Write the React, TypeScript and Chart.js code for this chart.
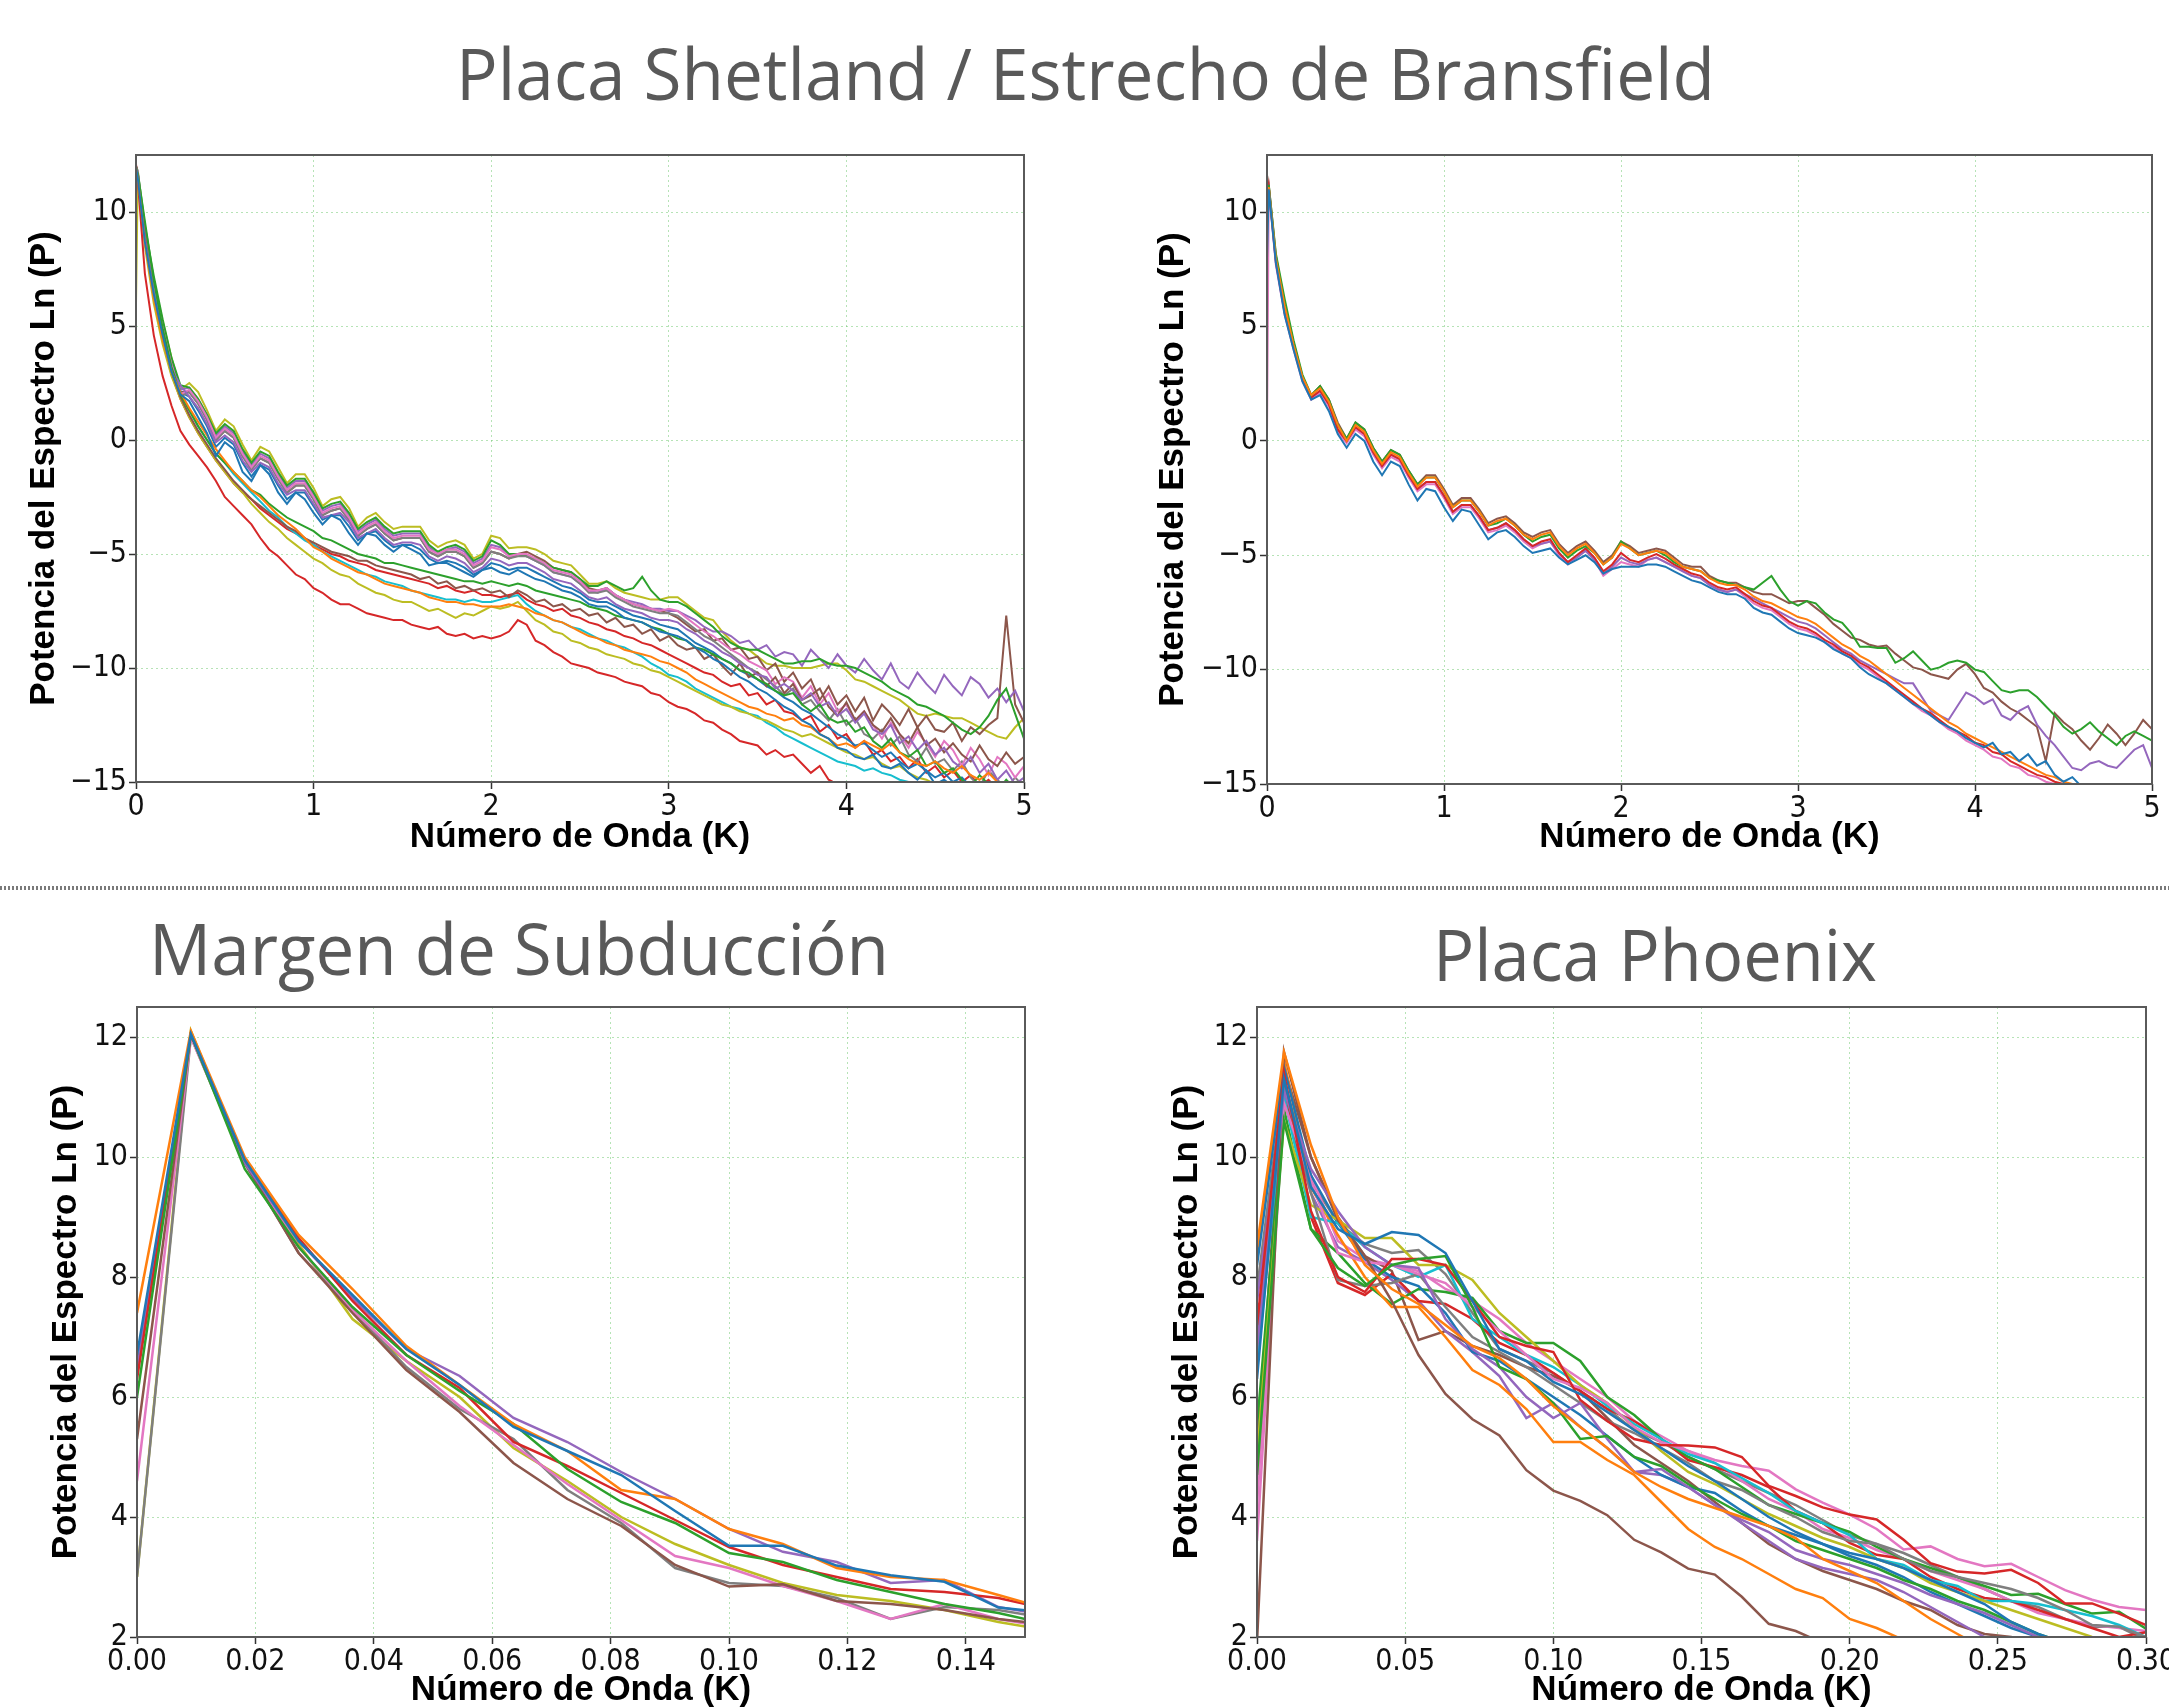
import React, { useEffect, useRef } from 'react';
import { Chart, registerables } from 'chart.js';

Chart.register(...registerables);

// ---------- colours (matplotlib tab10) ----------
const BLUE = '#1f77b4', ORANGE = '#ff7f0e', GREEN = '#2ca02c', RED = '#d62728', PURPLE = '#9467bd';
const BROWN = '#8c564b', PINK = '#e377c2', GRAY = '#7f7f7f', OLIVE = '#bcbd22', CYAN = '#17becf';

// ---------- titles / labels ----------
const TITLE_TOP = 'Placa Shetland / Estrecho de Bransfield';
const TITLE_BL = 'Margen de Subducción';
const TITLE_BR = 'Placa Phoenix';
const X_LABEL = 'Número de Onda (K)';
const Y_LABEL = 'Potencia del Espectro Ln (P)';

// ---------- wavenumbers ----------
const K_TOP = [0, 0.01, 0.05, 0.1, 0.15, 0.2, 0.25, 0.3, 0.35, 0.4, 0.45, 0.5,
  0.55, 0.6, 0.65, 0.7, 0.75, 0.8, 0.85, 0.9, 0.95, 1,
  1.05, 1.1, 1.15, 1.2, 1.25, 1.3, 1.35, 1.4, 1.45, 1.5,
  1.55, 1.6, 1.65, 1.7, 1.75, 1.8, 1.85, 1.9, 1.95, 2,
  2.05, 2.1, 2.15, 2.2, 2.25, 2.3, 2.35, 2.4, 2.45, 2.5,
  2.55, 2.6, 2.65, 2.7, 2.75, 2.8, 2.85, 2.9, 2.95, 3,
  3.05, 3.1, 3.15, 3.2, 3.25, 3.3, 3.35, 3.4, 3.45, 3.5,
  3.55, 3.6, 3.65, 3.7, 3.75, 3.8, 3.85, 3.9, 3.95, 4,
  4.05, 4.1, 4.15, 4.2, 4.25, 4.3, 4.35, 4.4, 4.45, 4.5,
  4.55, 4.6, 4.65, 4.7, 4.75, 4.8, 4.85, 4.9, 4.95, 5];

const K_BOTTOM = [0, 0.0091, 0.0182, 0.0273, 0.0364, 0.0455, 0.0545, 0.0636, 0.0727, 0.0818,
  0.0909, 0.1, 0.1091, 0.1182, 0.1273, 0.1364, 0.1455, 0.1545, 0.1636, 0.1727,
  0.1818, 0.1909, 0.2, 0.2091, 0.2182, 0.2273, 0.2364, 0.2455, 0.2545, 0.2636,
  0.2727, 0.2818, 0.2909, 0.3];

// ---------- Placa Shetland (left) ----------
const SH_BLUE_A = [12.0, 11.5,
  8.7, 6.4, 4.6, 3.0, 2.0, 1.7, 1.0, 0.3, -0.7, -0.1,
  -0.4, -1.4, -1.8, -1.1, -1.5, -2.3, -2.8, -2.3, -2.6, -3.2,
  -3.7, -3.3, -3.5, -4.1, -4.6, -4.1, -4.2, -4.6, -4.9, -4.6,
  -4.8, -5.0, -5.5, -5.4, -5.4, -5.6, -5.8, -6.0, -5.7, -5.6,
  -5.8, -5.9, -5.7, -5.9, -6.1, -6.2, -6.4, -6.6, -6.7, -6.9,
  -7.2, -7.3, -7.3, -7.5, -7.8, -7.9, -8.0, -8.2, -8.4, -8.5,
  -8.6, -8.8, -9.1, -9.3, -9.6, -9.8, -10.1, -10.4, -10.6, -10.9,
  -11.1, -11.4, -11.7, -11.9, -12.3, -12.5, -12.9, -13.1, -13.5, -13.6,
  -13.9, -14.0, -13.8, -14.3, -14.4, -14.2, -14.6, -14.9, -14.5, -15.1,
  -14.9, -15.2, -15.0, -15.4, -15.3, -15.5, -15.2, -15.6, -15.4, -15.6];
const SH_ORANGE = [12.0, 11.5,
  8.7, 6.2, 4.4, 3.0, 2.1, 1.4, 0.8, 0.2, -0.4, -0.9,
  -1.4, -1.8, -2.2, -2.5, -2.9, -3.3, -3.6, -3.9, -4.3, -4.7,
  -4.9, -5.2, -5.4, -5.6, -5.8, -5.9, -6.1, -6.3, -6.4, -6.5,
  -6.6, -6.7, -6.9, -7.0, -7.1, -7.1, -7.2, -7.2, -7.3, -7.3,
  -7.3, -7.2, -7.3, -7.4, -7.6, -7.7, -7.9, -8.0, -8.2, -8.4,
  -8.6, -8.7, -8.9, -9.0, -9.2, -9.3, -9.4, -9.5, -9.7, -9.8,
  -10.0, -10.2, -10.5, -10.7, -10.9, -11.1, -11.3, -11.5, -11.7, -11.8,
  -12.0, -12.1, -12.3, -12.2, -12.5, -12.6, -12.9, -13.1, -13.4, -13.3,
  -13.5, -13.2, -13.4, -13.6, -13.3, -13.7, -14.0, -14.2, -14.3, -14.1,
  -14.4, -14.6, -14.3, -14.7, -14.9, -14.6, -15.0, -15.2, -15.1, -15.3];
const SH_GREEN_MID = [12.0, 11.7,
  9.6, 7.0, 4.9, 3.2, 2.0, 1.3, 0.6, 0.0, -0.6, -1.0,
  -1.4, -1.8, -2.2, -2.4, -2.8, -3.1, -3.4, -3.6, -3.8, -4.0,
  -4.3, -4.4, -4.6, -4.8, -5.0, -5.1, -5.2, -5.4, -5.4, -5.5,
  -5.6, -5.7, -5.8, -5.9, -6.0, -6.1, -6.2, -6.2, -6.3, -6.2,
  -6.3, -6.4, -6.3, -6.4, -6.6, -6.7, -6.8, -6.9, -7.0, -7.1,
  -7.3, -7.4, -7.5, -7.7, -7.8, -7.9, -8.0, -8.2, -8.3, -8.5,
  -8.7, -8.8, -9.1, -9.2, -9.4, -9.6, -9.8, -10.1, -10.2, -10.5,
  -10.7, -11.0, -11.2, -11.1, -11.6, -11.9, -11.6, -12.2, -12.4, -12.3,
  -12.8, -12.6, -13.2, -13.5, -13.1, -13.7, -13.9, -13.6, -14.3, -14.1,
  -14.6, -14.4, -14.9, -15.2, -14.7, -15.1, -15.4, -14.9, -15.3, -15.5];
const SH_RED_LOW = [12.1, 11.4,
  7.3, 4.6, 2.8, 1.5, 0.4, -0.2, -0.7, -1.2, -1.8, -2.5,
  -2.9, -3.3, -3.7, -4.3, -4.8, -5.1, -5.5, -5.9, -6.1, -6.5,
  -6.7, -7.0, -7.2, -7.2, -7.4, -7.6, -7.7, -7.8, -7.9, -7.9,
  -8.1, -8.2, -8.3, -8.2, -8.5, -8.6, -8.5, -8.7, -8.6, -8.7,
  -8.6, -8.4, -7.9, -8.1, -8.8, -9.0, -9.3, -9.5, -9.8, -9.9,
  -10.0, -10.2, -10.3, -10.4, -10.6, -10.7, -10.8, -11.1, -11.2, -11.5,
  -11.7, -11.8, -12.0, -12.3, -12.4, -12.7, -12.9, -13.2, -13.3, -13.4,
  -13.8, -13.6, -13.9, -13.8, -14.2, -14.6, -14.3, -14.9, -15.1, -15.4,
  -15.2, -15.6, -15.4, -15.8, -15.6, -15.9, -15.7, -16.0, -15.8, -16.1,
  -15.9, -16.2, -16.0, -16.3, -16.1, -16.4, -16.2, -16.5, -16.3, -16.5];
const SH_PURPLE_A = [12.0, 11.6,
  8.8, 6.5, 4.7, 3.1, 2.4, 1.9, 1.4, 0.7, -0.1, 0.2,
  -0.1, -0.9, -1.4, -1.0, -1.2, -1.9, -2.4, -2.2, -2.2, -2.8,
  -3.4, -3.3, -3.2, -3.6, -4.3, -4.1, -3.9, -4.3, -4.6, -4.5,
  -4.5, -4.6, -5.1, -5.3, -5.1, -5.2, -5.4, -5.8, -5.6, -5.2,
  -5.3, -5.5, -5.4, -5.4, -5.6, -5.8, -6.1, -6.2, -6.3, -6.6,
  -6.9, -7.0, -6.9, -7.2, -7.4, -7.5, -7.6, -7.8, -7.9, -7.9,
  -8.0, -8.3, -8.5, -8.8, -9.0, -9.3, -9.5, -9.8, -10.0, -10.3,
  -10.4, -10.9, -10.7, -11.0, -11.4, -11.1, -11.7, -11.5, -12.1, -11.8,
  -12.4, -12.0, -12.7, -12.9, -12.5, -13.3, -13.0, -13.6, -13.2, -13.8,
  -13.5, -14.1, -14.4, -13.9, -14.6, -14.2, -14.9, -14.5, -15.1, -14.8];
const SH_BROWN_MID = [12.0, 11.6,
  9.0, 6.4, 4.5, 3.0, 1.9, 1.1, 0.4, -0.2, -0.8, -1.3,
  -1.8, -2.2, -2.6, -2.9, -3.2, -3.5, -3.8, -4.0, -4.3, -4.5,
  -4.7, -4.9, -5.0, -5.1, -5.3, -5.3, -5.5, -5.6, -5.7, -5.8,
  -5.9, -6.1, -6.0, -6.3, -6.2, -6.5, -6.4, -6.6, -6.5, -6.7,
  -6.6, -6.9, -6.6, -6.8, -7.1, -7.0, -7.3, -7.2, -7.5, -7.4,
  -7.7, -7.6, -8.0, -7.8, -8.2, -8.1, -8.5, -8.3, -8.8, -8.6,
  -9.0, -9.2, -9.1, -9.6, -9.4, -9.9, -10.3, -9.8, -10.4, -10.2,
  -10.8, -10.4, -11.1, -10.7, -11.4, -11.2, -10.9, -11.7, -12.1, -11.5,
  -12.3, -11.9, -12.5, -12.8, -12.2, -12.9, -13.3, -12.6, -13.4, -13.1,
  -13.7, -13.3, -13.8, -14.1, -13.4, -14.0, -14.3, -13.7, -14.2, -13.9];
const SH_PINK = [12.0, 11.8,
  9.0, 6.7, 4.9, 3.3, 2.0, 2.2, 1.7, 1.0, 0.1, 0.5,
  0.2, -0.6, -1.2, -0.7, -0.9, -1.6, -2.2, -1.9, -1.9, -2.5,
  -3.2, -3.0, -2.9, -3.4, -4.1, -3.8, -3.6, -4.0, -4.3, -4.2,
  -4.2, -4.2, -4.8, -5.0, -4.8, -4.8, -5.0, -5.5, -5.3, -4.7,
  -4.8, -5.1, -5.0, -5.0, -5.2, -5.4, -5.7, -5.8, -5.9, -6.2,
  -6.6, -6.6, -6.5, -6.8, -7.0, -7.2, -7.3, -7.4, -7.5, -7.4,
  -7.5, -7.8, -8.1, -8.4, -8.6, -8.9, -9.2, -9.4, -9.7, -9.9,
  -10.1, -10.7, -10.4, -10.6, -11.3, -10.8, -11.6, -11.1, -11.9, -11.6,
  -12.3, -11.9, -12.5, -13.1, -12.4, -12.9, -13.5, -12.8, -13.3, -13.9,
  -13.2, -13.6, -14.3, -13.5, -14.0, -14.7, -13.9, -14.2, -14.8, -14.3];
const SH_GRAY = [12.0, 11.7,
  8.9, 6.6, 4.8, 3.2, 1.9, 2.1, 1.6, 0.9, 0.0, 0.4,
  0.1, -0.7, -1.3, -0.8, -1.0, -1.7, -2.3, -2.0, -2.0, -2.6,
  -3.3, -3.1, -3.0, -3.5, -4.2, -3.9, -3.7, -4.1, -4.4, -4.3,
  -4.3, -4.3, -4.9, -5.1, -4.9, -4.9, -5.1, -5.6, -5.4, -4.9,
  -5.0, -5.2, -5.1, -5.1, -5.3, -5.5, -5.8, -5.9, -6.0, -6.3,
  -6.7, -6.7, -6.6, -6.9, -7.1, -7.3, -7.4, -7.5, -7.6, -7.6,
  -7.7, -8.0, -8.3, -8.6, -8.8, -9.1, -9.4, -9.7, -10.0, -10.2,
  -10.5, -10.8, -11.2, -10.9, -11.6, -11.4, -11.9, -12.3, -11.8, -12.5,
  -12.2, -12.9, -13.1, -12.7, -13.4, -13.0, -13.8, -14.1, -13.5, -14.2,
  -14.0, -14.5, -14.1, -14.8, -15.2, -14.5, -14.9, -15.3, -14.8, -15.2];
const SH_OLIVE_LOW = [12.0, 11.5,
  8.5, 6.0, 4.2, 2.8, 1.8, 1.0, 0.3, -0.3, -0.9, -1.4,
  -1.9, -2.3, -2.8, -3.2, -3.6, -3.9, -4.3, -4.6, -4.9, -5.2,
  -5.4, -5.7, -5.9, -6.0, -6.3, -6.5, -6.7, -6.8, -7.0, -7.1,
  -7.1, -7.3, -7.5, -7.4, -7.6, -7.8, -7.6, -7.7, -7.5, -7.3,
  -7.4, -7.3, -7.1, -7.5, -7.9, -8.1, -8.4, -8.5, -8.8, -8.9,
  -9.1, -9.2, -9.4, -9.5, -9.6, -9.8, -9.9, -10.1, -10.2, -10.4,
  -10.6, -10.8, -11.0, -11.2, -11.4, -11.6, -11.7, -11.9, -12.0, -12.2,
  -12.3, -12.5, -12.7, -12.8, -13.0, -12.9, -13.1, -13.3, -13.5, -13.7,
  -13.8, -14.0, -13.9, -14.2, -14.4, -14.3, -14.6, -14.8, -14.9, -15.1,
  -15.0, -15.2, -15.3, -15.1, -15.4, -15.5, -15.3, -15.6, -15.5, -15.7];
const SH_CYAN = [12.0, 11.6,
  8.9, 6.3, 4.6, 3.1, 2.1, 1.3, 0.6, 0.0, -0.6, -1.0,
  -1.5, -1.9, -2.3, -2.7, -3.1, -3.4, -3.8, -4.1, -4.4, -4.6,
  -4.9, -5.1, -5.3, -5.5, -5.7, -5.9, -6.0, -6.2, -6.3, -6.4,
  -6.6, -6.7, -6.8, -6.9, -7.0, -7.0, -7.1, -7.0, -7.1, -7.1,
  -7.0, -6.9, -6.8, -7.2, -7.5, -7.7, -7.9, -8.0, -8.2, -8.3,
  -8.5, -8.7, -8.8, -9.0, -9.1, -9.3, -9.5, -9.8, -10.0, -10.3,
  -10.4, -10.6, -10.9, -11.1, -11.3, -11.5, -11.7, -11.8, -12.0, -12.1,
  -12.4, -12.6, -12.9, -13.1, -13.3, -13.5, -13.7, -13.9, -14.1, -14.2,
  -14.3, -14.5, -14.4, -14.6, -14.7, -14.9, -15.0, -15.1, -15.2, -15.3,
  -15.4, -15.3, -15.5, -15.6, -15.5, -15.7, -15.8, -15.6, -15.8, -15.9];
const SH_BLUE_B = [12.0, 11.7,
  8.9, 6.6, 4.8, 3.2, 2.1, 1.9, 1.3, 0.6, -0.3, 0.1,
  -0.2, -1.0, -1.6, -1.1, -1.3, -2.0, -2.6, -2.3, -2.3, -2.9,
  -3.5, -3.3, -3.3, -3.8, -4.4, -4.1, -4.0, -4.4, -4.7, -4.6,
  -4.6, -4.8, -5.2, -5.4, -5.3, -5.4, -5.6, -5.9, -5.7, -5.4,
  -5.5, -5.7, -5.6, -5.6, -5.8, -6.0, -6.2, -6.4, -6.5, -6.7,
  -7.0, -7.1, -7.1, -7.3, -7.5, -7.7, -7.8, -7.9, -8.1, -8.2,
  -8.3, -8.6, -8.9, -9.1, -9.3, -9.6, -9.8, -10.1, -10.3, -10.5,
  -10.8, -11.0, -11.3, -11.5, -11.8, -12.0, -12.3, -12.6, -12.9, -13.1,
  -13.4, -13.3, -13.6, -13.9, -13.7, -14.1, -14.4, -14.2, -14.5, -14.8,
  -14.6, -15.0, -14.8, -15.2, -15.0, -15.3, -15.1, -15.4, -15.2, -15.5];
const SH_GREEN_UP = [12.0, 11.8,
  9.4, 7.2, 5.3, 3.6, 2.4, 2.3, 1.8, 1.1, 0.3, 0.7,
  0.4, -0.4, -1.0, -0.5, -0.7, -1.4, -2.0, -1.7, -1.7, -2.3,
  -3.0, -2.8, -2.7, -3.2, -3.9, -3.6, -3.4, -3.8, -4.1, -4.0,
  -4.0, -4.0, -4.6, -4.9, -4.7, -4.6, -4.8, -5.3, -5.1, -4.4,
  -4.6, -5.0, -5.0, -5.1, -5.2, -5.4, -5.6, -5.7, -5.8, -6.1,
  -6.4, -6.4, -6.2, -6.4, -6.6, -6.5, -6.0, -6.6, -7.0, -7.1,
  -7.1, -7.3, -7.6, -7.9, -8.2, -8.6, -8.9, -9.1, -9.2, -9.2,
  -9.4, -9.6, -9.8, -9.8, -9.7, -9.7, -9.6, -9.8, -9.9, -9.9,
  -10.0, -10.2, -10.4, -10.6, -10.9, -11.1, -11.3, -11.6, -11.7, -11.9,
  -12.1, -12.4, -12.7, -12.9, -12.6, -12.1, -11.4, -10.9, -12.0, -13.1];
const SH_PURPLE_UP = [12.0, 11.7,
  9.1, 6.8, 5.0, 3.4, 2.2, 2.3, 1.8, 1.1, 0.2, 0.6,
  0.3, -0.5, -1.1, -0.6, -0.8, -1.5, -2.1, -1.8, -1.8, -2.4,
  -3.1, -2.9, -2.8, -3.3, -4.0, -3.7, -3.5, -3.9, -4.2, -4.1,
  -4.1, -4.1, -4.7, -5.0, -4.8, -4.7, -4.9, -5.4, -5.2, -4.6,
  -4.7, -5.1, -5.0, -5.1, -5.3, -5.5, -5.8, -5.9, -6.0, -6.3,
  -6.6, -6.7, -6.5, -6.8, -7.0, -7.1, -7.2, -7.4, -7.4, -7.5,
  -7.5, -7.7, -7.9, -8.2, -8.4, -8.4, -8.6, -8.9, -8.8, -9.2,
  -9.0, -9.5, -9.3, -9.4, -9.9, -9.2, -9.6, -10.0, -9.4, -9.9,
  -10.2, -9.6, -10.1, -10.5, -9.8, -10.6, -10.9, -10.2, -10.7, -11.1,
  -10.3, -10.8, -11.2, -10.4, -10.7, -11.3, -10.9, -11.5, -11.0, -11.9];
const SH_BROWN_UP = [12.0, 11.6,
  9.0, 6.7, 4.9, 3.3, 2.1, 2.1, 1.6, 0.9, 0.0, 0.4,
  0.1, -0.7, -1.3, -0.8, -1.0, -1.7, -2.3, -2.0, -2.0, -2.6,
  -3.3, -3.1, -3.0, -3.5, -4.2, -3.9, -3.7, -4.1, -4.4, -4.3,
  -4.3, -4.3, -4.9, -5.1, -4.9, -4.9, -5.1, -5.6, -5.4, -4.9,
  -5.0, -5.2, -5.0, -4.9, -5.1, -5.3, -5.6, -5.7, -5.8, -6.1,
  -6.5, -6.6, -6.5, -6.8, -7.0, -7.2, -7.3, -7.4, -7.5, -7.6,
  -7.8, -8.1, -8.4, -8.3, -8.8, -8.7, -9.2, -9.1, -9.6, -9.5,
  -10.1, -9.8, -10.6, -10.2, -10.9, -10.5, -11.4, -10.8, -11.6, -11.2,
  -11.9, -11.3, -12.3, -11.6, -12.0, -12.5, -11.8, -12.6, -12.1, -12.7,
  -12.8, -12.4, -13.2, -12.6, -12.9, -12.5, -12.2, -7.7, -11.6, -12.4];
const SH_RED_MID = [12.0, 11.5,
  8.9, 6.3, 4.4, 2.9, 1.8, 1.0, 0.3, -0.3, -0.9, -1.4,
  -1.9, -2.3, -2.6, -3.0, -3.3, -3.6, -3.9, -4.1, -4.3, -4.6,
  -4.8, -5.0, -5.1, -5.3, -5.4, -5.5, -5.7, -5.8, -5.9, -6.0,
  -6.1, -6.2, -6.3, -6.5, -6.4, -6.6, -6.7, -6.6, -6.8, -6.8,
  -6.9, -6.8, -6.7, -7.0, -7.2, -7.3, -7.5, -7.4, -7.7, -7.8,
  -8.0, -8.1, -8.3, -8.4, -8.6, -8.7, -8.9, -9.0, -9.2, -9.4,
  -9.6, -9.8, -10.0, -10.2, -10.3, -10.6, -10.8, -10.7, -11.2, -11.1,
  -11.6, -11.4, -11.9, -12.0, -12.3, -12.1, -12.8, -12.5, -13.1, -12.9,
  -13.5, -13.2, -13.8, -13.6, -14.1, -13.9, -14.4, -14.0, -14.6, -14.3,
  -14.8, -14.5, -15.0, -14.7, -15.2, -14.9, -15.3, -15.0, -15.4, -15.1];
const SH_OLIVE_TOP = [6.0, 11.6,
  9.3, 7.0, 5.2, 3.6, 2.2, 2.5, 2.1, 1.3, 0.4, 0.9,
  0.6, -0.2, -0.9, -0.3, -0.5, -1.2, -1.9, -1.5, -1.5, -2.1,
  -2.9, -2.6, -2.5, -3.0, -3.8, -3.4, -3.2, -3.6, -3.9, -3.8,
  -3.8, -3.8, -4.4, -4.7, -4.5, -4.4, -4.6, -5.2, -5.0, -4.2,
  -4.3, -4.75, -4.7, -4.7, -4.8, -5.0, -5.3, -5.4, -5.5, -5.9,
  -6.3, -6.3, -6.2, -6.5, -6.7, -6.8, -6.9, -7.0, -7.0, -6.9,
  -6.9, -7.2, -7.5, -7.8, -7.9, -8.4, -8.8, -9.1, -9.2, -9.5,
  -9.8, -9.9, -9.9, -10.0, -10.0, -10.0, -9.9, -9.8, -9.8, -10.1,
  -10.5, -10.6, -10.8, -11.0, -11.2, -11.4, -11.7, -12.0, -12.1, -12.0,
  -12.1, -12.2, -12.2, -12.4, -12.6, -12.8, -13.0, -13.1, -12.6, -12.2];

const SH_SERIES = [SH_BLUE_A, SH_ORANGE, SH_GREEN_MID, SH_RED_LOW, SH_PURPLE_A, SH_BROWN_MID, SH_PINK, SH_GRAY,
  SH_OLIVE_LOW, SH_CYAN, SH_BLUE_B, SH_GREEN_UP, SH_PURPLE_UP, SH_BROWN_UP, SH_RED_MID, SH_OLIVE_TOP];
const SH_COLORS = [BLUE, ORANGE, GREEN, RED, PURPLE, BROWN, PINK, GRAY, OLIVE, CYAN, BLUE, GREEN, PURPLE, BROWN, RED, OLIVE];

// ---------- Estrecho de Bransfield (right) ----------
const BR_BLUE = [8.0, 11.0,
  7.8, 5.5, 4.0, 2.6, 1.8, 2.0, 1.3, 0.3, -0.3, 0.3,
  0.0, -0.9, -1.5, -0.9, -1.1, -1.9, -2.6, -2.1, -2.2, -2.9,
  -3.5, -3.0, -3.1, -3.7, -4.3, -4.0, -3.9, -4.2, -4.6, -4.9,
  -4.8, -4.7, -5.1, -5.4, -5.2, -5.0, -5.3, -5.8, -5.6, -5.5,
  -5.5, -5.5, -5.4, -5.4, -5.5, -5.7, -5.9, -6.1, -6.2, -6.4,
  -6.6, -6.7, -6.7, -6.9, -7.3, -7.5, -7.6, -7.9, -8.2, -8.4,
  -8.5, -8.6, -8.8, -9.1, -9.3, -9.5, -9.9, -10.2, -10.4, -10.6,
  -10.9, -11.2, -11.5, -11.7, -12.0, -12.3, -12.5, -12.7, -13.0, -13.2,
  -13.4, -13.2, -13.7, -13.6, -14.0, -13.7, -14.2, -14.0, -14.6, -14.9,
  -14.7, -15.1, -15.0, -15.3, -15.2, -15.4, -15.5, -15.6, -15.7, -15.8];
const BR_ORANGE = [9.5, 11.1,
  8.0, 5.9, 4.2, 2.8, 2.0, 2.3, 1.7, 0.7, 0.0, 0.7,
  0.4, -0.4, -1.0, -0.5, -0.7, -1.4, -2.0, -1.6, -1.6, -2.2,
  -2.9, -2.6, -2.6, -3.1, -3.7, -3.5, -3.4, -3.7, -4.1, -4.3,
  -4.1, -4.0, -4.6, -5.0, -4.7, -4.5, -4.9, -5.4, -5.1, -4.5,
  -4.7, -5.0, -4.9, -4.8, -4.9, -5.2, -5.5, -5.6, -5.7, -6.0,
  -6.2, -6.3, -6.3, -6.5, -6.8, -7.0, -7.1, -7.3, -7.5, -7.7,
  -7.8, -8.0, -8.3, -8.6, -8.9, -9.1, -9.4, -9.6, -9.9, -10.2,
  -10.5, -10.8, -11.1, -11.4, -11.7, -12.0, -12.3, -12.5, -12.8, -13.0,
  -13.2, -13.4, -13.6, -13.8, -14.0, -14.2, -14.4, -14.6, -14.7, -14.9,
  -15.0, -15.1, -15.2, -15.3, -15.4, -15.5, -15.6, -15.7, -15.8, -15.9];
const BR_GREEN = [10.0, 11.2,
  8.2, 6.2, 4.4, 2.9, 2.0, 2.4, 1.8, 0.7, 0.1, 0.8,
  0.5, -0.3, -0.9, -0.4, -0.6, -1.3, -1.9, -1.6, -1.6, -2.2,
  -2.9, -2.6, -2.6, -3.1, -3.7, -3.6, -3.4, -3.7, -4.1, -4.4,
  -4.2, -4.1, -4.7, -5.1, -4.8, -4.6, -4.9, -5.4, -5.1, -4.4,
  -4.7, -5.0, -4.9, -4.8, -5.0, -5.3, -5.5, -5.6, -5.7, -6.0,
  -6.1, -6.2, -6.3, -6.4, -6.5, -6.2, -5.9, -6.5, -7.0, -7.2,
  -7.0, -7.1, -7.5, -7.8, -7.95, -8.4, -9.0, -9.0, -9.05, -9.05,
  -9.7, -9.5, -9.2, -9.6, -10.0, -9.9, -9.7, -9.6, -9.7, -10.0,
  -10.1, -10.5, -10.9, -11.0, -10.9, -10.9, -11.2, -11.6, -12.0, -12.5,
  -12.8, -12.6, -12.3, -12.7, -13.0, -13.3, -12.9, -12.7, -12.9, -13.1];
const BR_RED = [10.5, 11.1,
  7.9, 5.6, 4.1, 2.7, 1.9, 2.2, 1.6, 0.5, 0.0, 0.6,
  0.3, -0.5, -1.1, -0.6, -0.8, -1.5, -2.1, -1.8, -1.8, -2.4,
  -3.1, -2.8, -2.8, -3.3, -3.9, -3.8, -3.6, -3.9, -4.3, -4.6,
  -4.4, -4.3, -4.9, -5.3, -5.0, -4.7, -5.1, -5.7, -5.4, -4.9,
  -5.2, -5.3, -5.1, -4.95, -5.15, -5.4, -5.6, -5.8, -5.9, -6.2,
  -6.4, -6.5, -6.4, -6.7, -7.0, -7.2, -7.3, -7.6, -7.9, -8.1,
  -8.2, -8.4, -8.7, -8.9, -9.2, -9.4, -9.7, -9.9, -10.2, -10.5,
  -10.8, -11.1, -11.4, -11.7, -11.9, -12.2, -12.5, -12.7, -12.9, -13.2,
  -13.3, -13.6, -13.7, -14.0, -14.2, -14.4, -14.6, -14.7, -14.9, -15.0,
  -15.1, -15.2, -15.3, -15.4, -15.5, -15.5, -15.6, -15.7, -15.8, -15.9];
const BR_PURPLE = [10.8, 11.1,
  7.8, 5.6, 4.1, 2.7, 1.9, 2.2, 1.6, 0.5, 0.0, 0.6,
  0.3, -0.5, -1.1, -0.6, -0.8, -1.5, -2.1, -1.8, -1.8, -2.4,
  -3.1, -2.8, -2.8, -3.3, -3.9, -3.8, -3.6, -3.9, -4.3, -4.6,
  -4.5, -4.4, -4.9, -5.3, -5.1, -4.8, -5.2, -5.8, -5.5, -5.1,
  -5.3, -5.4, -5.2, -5.1, -5.3, -5.5, -5.7, -5.9, -6.0, -6.3,
  -6.5, -6.6, -6.5, -6.7, -6.9, -7.1, -7.3, -7.5, -7.7, -7.9,
  -8.0, -8.2, -8.5, -8.8, -9.1, -9.3, -9.6, -9.8, -10.0, -10.2,
  -10.4, -10.6, -10.6, -11.2, -11.8, -12.0, -12.2, -11.6, -11.0, -11.2,
  -11.5, -11.3, -12.0, -12.2, -11.8, -11.6, -12.4, -12.9, -13.3, -13.8,
  -14.3, -14.4, -14.1, -14.0, -14.2, -14.3, -13.9, -13.5, -13.3, -14.3];
const BR_BROWN = [10.5, 11.2,
  8.1, 6.0, 4.3, 2.8, 2.0, 2.4, 1.8, 0.8, 0.1, 0.8,
  0.5, -0.3, -0.9, -0.4, -0.6, -1.3, -1.9, -1.5, -1.5, -2.1,
  -2.8, -2.5, -2.5, -3.0, -3.6, -3.4, -3.3, -3.6, -4.0, -4.2,
  -4.0, -3.9, -4.5, -4.9, -4.6, -4.4, -4.8, -5.3, -5.0, -4.4,
  -4.6, -4.9, -4.8, -4.7, -4.8, -5.1, -5.4, -5.5, -5.5, -5.9,
  -6.1, -6.2, -6.2, -6.4, -6.6, -6.7, -6.7, -6.9, -7.1, -7.0,
  -7.0, -7.3, -7.6, -8.0, -8.3, -8.6, -8.7, -8.9, -9.0, -8.95,
  -9.3, -9.6, -9.9, -10.0, -10.2, -10.3, -10.4, -10.0, -9.75, -10.2,
  -10.8, -11.0, -11.4, -11.7, -11.9, -12.2, -12.5, -14.0, -11.9, -12.3,
  -12.6, -13.1, -13.5, -13.0, -12.4, -12.8, -13.3, -12.8, -12.2, -12.6];
const BR_PINK = [0.2, 11.0,
  7.7, 5.5, 4.0, 2.6, 1.8, 2.1, 1.5, 0.4, -0.1, 0.5,
  0.2, -0.6, -1.2, -0.7, -0.9, -1.6, -2.2, -1.9, -1.9, -2.5,
  -3.2, -2.9, -2.9, -3.4, -4.0, -3.9, -3.7, -4.0, -4.4, -4.7,
  -4.5, -4.4, -5.0, -5.4, -5.1, -4.8, -5.2, -5.9, -5.6, -5.3,
  -5.4, -5.5, -5.2, -5.1, -5.3, -5.5, -5.7, -5.9, -6.0, -6.3,
  -6.5, -6.6, -6.5, -6.8, -7.1, -7.3, -7.4, -7.7, -8.0, -8.2,
  -8.3, -8.5, -8.8, -9.0, -9.3, -9.5, -9.8, -10.0, -10.3, -10.6,
  -10.9, -11.2, -11.5, -11.8, -12.0, -12.3, -12.6, -12.8, -13.1, -13.3,
  -13.5, -13.8, -13.9, -14.2, -14.3, -14.6, -14.7, -14.9, -15.0, -15.1,
  -15.2, -15.3, -15.4, -15.5, -15.5, -15.6, -15.7, -15.8, -15.8, -15.9];

const BR_SERIES = [BR_BLUE, BR_ORANGE, BR_GREEN, BR_RED, BR_PURPLE, BR_BROWN, BR_PINK];
const BR_COLORS = [BLUE, ORANGE, GREEN, RED, PURPLE, BROWN, PINK];

// ---------- Margen de Subducción ----------
const MS_BLUE = [6.7, 12.05, 9.95, 8.6, 7.7, 6.8, 6.2, 5.5, 5.1, 4.7, 4.1, 3.52, 3.52, 3.19, 3.03, 2.92, 2.49, 2.4];
const MS_ORANGE = [7.4, 12.1, 10.0, 8.7, 7.8, 6.85, 6.2, 5.55, 5.1, 4.45, 4.3, 3.8, 3.55, 3.15, 3.0, 2.95, 2.7, 2.45];
const MS_GREEN = [6.0, 12.05, 9.8, 8.5, 7.5, 6.7, 6.1, 5.55, 4.8, 4.25, 3.9, 3.4, 3.25, 2.95, 2.75, 2.55, 2.4, 2.2];
const MS_RED = [6.3, 12.05, 9.95, 8.65, 7.6, 6.7, 6.15, 5.25, 4.85, 4.4, 3.95, 3.5, 3.2, 3.0, 2.8, 2.75, 2.65, 2.45];
const MS_PURPLE = [6.5, 12.05, 9.9, 8.6, 7.65, 6.8, 6.35, 5.65, 5.25, 4.75, 4.3, 3.8, 3.42, 3.25, 2.9, 2.95, 2.5, 2.35];
const MS_BROWN = [5.3, 12.05, 9.9, 8.4, 7.4, 6.45, 5.75, 4.9, 4.3, 3.85, 3.2, 2.84, 2.88, 2.6, 2.55, 2.45, 2.3, 2.2];
const MS_PINK = [4.6, 12.0, 9.9, 8.5, 7.45, 6.6, 5.85, 5.2, 4.55, 3.95, 3.35, 3.15, 2.85, 2.6, 2.3, 2.55, 2.3, 2.15];
const MS_GRAY = [3.0, 12.0, 9.9, 8.4, 7.45, 6.5, 5.8, 5.3, 4.45, 3.9, 3.15, 2.9, 2.85, 2.65, 2.3, 2.5, 2.45, 2.3];
const MS_OLIVE = [3.0, 12.1, 9.9, 8.55, 7.3, 6.6, 6.0, 5.15, 4.6, 4.0, 3.55, 3.2, 2.9, 2.7, 2.6, 2.45, 2.25, 2.1];

const MS_SERIES = [MS_BLUE, MS_ORANGE, MS_GREEN, MS_RED, MS_PURPLE, MS_BROWN, MS_PINK, MS_GRAY, MS_OLIVE];
const MS_COLORS = [BLUE, ORANGE, GREEN, RED, PURPLE, BROWN, PINK, GRAY, OLIVE];

// ---------- Placa Phoenix ----------
const PH_BLUE_1 = [6.3, 11.3, 9.5, 8.8, 8.55, 8.75, 8.7, 8.4, 7.6, 6.8, 6.6, 6.25, 6.05, 5.75, 5.45, 5.15, 4.85, 4.6, 4.3, 4.0, 3.75, 3.55, 3.4, 3.3, 3.15, 2.95, 2.75, 2.55, 2.25, 2.05, 1.9, 1.8, 1.7, 1.6];
const PH_ORANGE_1 = [8.5, 11.75, 10.2, 9.0, 8.2, 7.8, 7.55, 7.2, 6.85, 6.65, 6.3, 5.85, 5.5, 5.15, 4.75, 4.5, 4.3, 4.15, 4.0, 3.85, 3.65, 3.3, 3.1, 2.9, 2.6, 2.3, 2.05, 1.8, 1.7, 1.6, 1.5, 1.4, 1.3, 1.2];
const PH_GREEN_1 = [4.7, 10.6, 8.8, 8.15, 7.85, 8.2, 8.3, 8.35, 7.5, 6.5, 6.3, 5.9, 5.3, 5.35, 5.0, 4.85, 4.55, 4.3, 4.05, 3.85, 3.6, 3.45, 3.3, 3.15, 2.95, 2.8, 2.6, 2.45, 2.25, 2.05, 1.9, 1.8, 1.7, 1.6];
const PH_RED_1 = [7.2, 11.4, 9.1, 8.0, 7.75, 8.3, 8.3, 8.2, 7.6, 7.0, 6.85, 6.75, 5.95, 5.6, 5.3, 5.2, 5.19, 5.16, 5.0, 4.52, 4.35, 4.16, 4.04, 3.96, 3.62, 3.23, 3.09, 3.06, 3.12, 2.9, 2.56, 2.56, 2.39, 2.2];
const PH_PURPLE_1 = [6.8, 11.1, 9.8, 9.1, 8.5, 8.2, 8.15, 7.3, 6.8, 6.5, 6.0, 5.65, 5.9, 5.3, 4.75, 4.8, 4.5, 4.2, 3.95, 3.75, 3.45, 3.3, 3.2, 3.05, 2.9, 2.7, 2.55, 2.4, 2.2, 2.0, 1.9, 1.75, 1.65, 1.55];
const PH_BROWN_1 = [1.9, 11.75, 10.0, 8.95, 8.35, 7.6, 6.7, 6.05, 5.63, 5.36, 4.78, 4.44, 4.27, 4.03, 3.62, 3.41, 3.14, 3.04, 2.67, 2.22, 2.1, 1.9, 1.7, 1.55, 1.4, 1.3, 1.2, 1.1, 1.0, 0.9, 0.8, 0.7, 0.6, 0.5];
const PH_PINK_1 = [3.6, 10.9, 9.6, 8.4, 8.25, 8.2, 8.05, 7.9, 7.5, 7.1, 6.7, 6.3, 6.15, 5.9, 5.5, 5.25, 5.1, 4.95, 4.85, 4.77, 4.46, 4.24, 4.04, 3.8, 3.46, 3.51, 3.3, 3.18, 3.22, 3.0, 2.78, 2.62, 2.5, 2.45];
const PH_GRAY_1 = [7.0, 11.2, 9.4, 7.95, 7.85, 7.9, 8.05, 7.5, 7.0, 6.75, 6.5, 6.2, 5.9, 5.6, 5.4, 5.15, 4.9, 4.6, 4.45, 4.2, 4.0, 3.75, 3.6, 3.55, 3.3, 3.1, 3.0, 2.9, 2.8, 2.65, 2.45, 2.2, 2.17, 2.0];
const PH_OLIVE_1 = [5.0, 10.6, 9.2, 8.95, 8.65, 8.65, 8.2, 8.2, 7.95, 7.4, 7.0, 6.6, 6.2, 5.9, 5.5, 5.1, 4.75, 4.55, 4.3, 4.05, 3.85, 3.65, 3.5, 3.3, 3.15, 2.9, 2.75, 2.6, 2.45, 2.3, 2.15, 2.0, 1.9, 1.8];
const PH_CYAN_1 = [6.5, 11.0, 9.0, 8.9, 8.5, 8.2, 8.0, 8.2, 7.3, 7.0, 6.7, 6.5, 6.2, 5.85, 5.55, 5.3, 5.05, 4.9, 4.65, 4.4, 4.1, 3.9, 3.7, 3.3, 3.2, 2.95, 2.85, 2.6, 2.6, 2.55, 2.45, 2.35, 2.2, 2.0];
const PH_BLUE_2 = [8.2, 11.5, 9.7, 8.9, 8.3, 8.0, 7.85, 7.4, 6.75, 6.6, 6.3, 6.0, 5.7, 5.35, 5.0, 4.7, 4.5, 4.4, 4.1, 3.85, 3.7, 3.55, 3.35, 3.2, 3.0, 2.75, 2.55, 2.35, 2.15, 2.0, 1.85, 1.75, 1.65, 1.55];
const PH_ORANGE_2 = [8.4, 11.6, 9.5, 8.7, 8.0, 7.5, 7.5, 7.0, 6.45, 6.2, 5.8, 5.25, 5.25, 4.95, 4.7, 4.25, 3.8, 3.5, 3.3, 3.05, 2.8, 2.65, 2.3, 2.15, 1.95, 1.8, 1.65, 1.5, 1.4, 1.3, 1.2, 1.1, 1.0, 0.9];
const PH_GREEN_2 = [5.5, 10.8, 8.8, 8.4, 7.9, 7.55, 7.8, 7.75, 7.65, 7.1, 6.9, 6.9, 6.6, 6.0, 5.7, 5.3, 5.0, 4.8, 4.5, 4.2, 4.05, 3.9, 3.75, 3.5, 3.3, 3.15, 3.0, 2.85, 2.7, 2.72, 2.55, 2.39, 2.42, 2.14];
const PH_RED_2 = [6.6, 11.2, 9.0, 7.9, 7.7, 8.05, 7.6, 7.55, 7.3, 6.9, 6.7, 6.4, 6.1, 5.8, 5.6, 5.3, 4.95, 4.83, 4.7, 4.5, 4.1, 3.9, 3.57, 3.37, 3.3, 3.0, 2.8, 2.65, 2.6, 2.45, 2.3, 2.15, 2.0, 2.08];
const PH_PURPLE_2 = [7.6, 11.0, 9.4, 8.5, 8.25, 7.95, 7.6, 7.1, 6.75, 6.35, 5.65, 5.9, 5.5, 5.15, 4.75, 4.7, 4.5, 4.2, 3.9, 3.6, 3.3, 3.15, 3.05, 2.95, 2.75, 2.5, 2.25, 2.0, 1.85, 1.7, 1.6, 1.5, 1.4, 1.3];
const PH_BROWN_2 = [5.0, 11.5, 10.0, 9.0, 8.35, 8.1, 6.95, 7.1, 6.85, 6.7, 6.5, 6.35, 6.1, 5.65, 5.2, 4.9, 4.6, 4.25, 3.9, 3.55, 3.3, 3.1, 2.95, 2.8, 2.6, 2.45, 2.2, 2.05, 2.0, 1.9, 1.8, 1.7, 1.6, 1.5];
const PH_PINK_2 = [4.2, 11.1, 9.7, 8.6, 8.3, 8.2, 8.1, 7.8, 7.6, 7.3, 6.9, 6.6, 6.3, 6.0, 5.6, 5.35, 5.1, 4.9, 4.6, 4.3, 4.1, 3.8, 3.65, 3.45, 3.3, 3.1, 2.95, 2.8, 2.6, 2.4, 2.3, 2.2, 2.15, 2.1];
const PH_GRAY_2 = [7.8, 11.3, 9.6, 8.9, 8.55, 8.4, 8.45, 8.05, 7.4, 6.8, 6.6, 6.4, 6.1, 5.8, 5.45, 5.25, 5.0, 4.8, 4.6, 4.4, 4.2, 3.95, 3.7, 3.55, 3.4, 3.2, 3.0, 2.8, 2.6, 2.5, 2.3, 2.17, 2.17, 1.95];

const PH_SERIES = [PH_BLUE_1, PH_ORANGE_1, PH_GREEN_1, PH_RED_1, PH_PURPLE_1, PH_BROWN_1, PH_PINK_1, PH_GRAY_1, PH_OLIVE_1,
  PH_CYAN_1, PH_BLUE_2, PH_ORANGE_2, PH_GREEN_2, PH_RED_2, PH_PURPLE_2, PH_BROWN_2, PH_PINK_2, PH_GRAY_2];
const PH_COLORS = [BLUE, ORANGE, GREEN, RED, PURPLE, BROWN, PINK, GRAY, OLIVE, CYAN, BLUE, ORANGE, GREEN, RED, PURPLE, BROWN, PINK, GRAY];

// ---------- chart component ----------
const framePlugin = {
  id: 'frame',
  afterDraw(chart: any) {
    const { ctx, chartArea: a } = chart;
    ctx.save();
    ctx.strokeStyle = '#5a5a5a';
    ctx.lineWidth = 2;
    ctx.strokeRect(a.left, a.top, a.right - a.left, a.bottom - a.top);
    ctx.restore();
  },
};

const minusFmt = (v: number) => (v < 0 ? '\u2212' + Math.abs(v) : String(v));
const TICK_FONT = { family: '"DejaVu Sans Condensed", "DejaVu Sans", sans-serif', size: 30 };
const AXIS_TITLE_FONT = { family: '"Liberation Sans", Arial, sans-serif', weight: 'bold', size: 35, lineHeight: 1 };

function SpectrumChart(props: any) {
  const { left, top, width, height, yAxisWidth, xAxisHeight, padTop, padRight, xs, series, colors,
    xMax, xStep, yMin, yMax, yStep, xDecimals, lineWidth } = props;
  const ref = useRef<HTMLCanvasElement>(null);
  useEffect(() => {
    if (!ref.current) return;
    const gridOpts = {
      color: 'rgba(110,200,110,0.5)',
      lineWidth: 1,
      tickColor: '#333',
      tickLength: 7,
      tickWidth: 1.5,
      tickBorderDash: [],
    };
    const chart = new Chart(ref.current, {
      type: 'line',
      data: {
        datasets: series.map((vals: number[], i: number) => ({
          data: vals.map((v, j) => ({ x: xs[j], y: v })),
          borderColor: colors[i],
          backgroundColor: colors[i],
          borderWidth: lineWidth,
          pointRadius: 0,
          tension: 0,
          fill: false,
        })),
      },
      options: {
        responsive: false,
        maintainAspectRatio: false,
        animation: false,
        devicePixelRatio: 1,
        layout: { padding: { left: 0, top: padTop, right: padRight, bottom: 0 } },
        plugins: { legend: { display: false }, tooltip: { enabled: false } },
        scales: {
          x: {
            type: 'linear',
            min: 0,
            max: xMax,
            afterFit: (s: any) => { s.height = xAxisHeight; s.paddingLeft = 0; s.paddingRight = 0; },
            ticks: {
              stepSize: xStep,
              autoSkip: false,
              maxRotation: 0,
              includeBounds: false,
              padding: 0,
              color: '#111',
              font: TICK_FONT,
              callback: (v: any) => (xDecimals > 0 ? Number(v).toFixed(xDecimals) : minusFmt(Math.round(Number(v)))),
            },
            grid: gridOpts,
            border: { display: false, dash: [2, 3] },
            title: { display: true, text: X_LABEL, color: '#000', padding: 0, font: AXIS_TITLE_FONT },
          },
          y: {
            type: 'linear',
            min: yMin,
            max: yMax,
            afterFit: (s: any) => { s.width = yAxisWidth; s.paddingTop = 0; s.paddingBottom = 0; },
            ticks: {
              stepSize: yStep,
              autoSkip: false,
              includeBounds: false,
              padding: 2,
              color: '#111',
              font: TICK_FONT,
              callback: (v: any) => minusFmt(Math.round(Number(v))),
            },
            grid: gridOpts,
            border: { display: false, dash: [2, 3] },
            title: { display: true, text: Y_LABEL, color: '#000', padding: 0, font: AXIS_TITLE_FONT },
          },
        },
      },
      plugins: [framePlugin],
    } as any);
    return () => chart.destroy();
  }, []);
  return (
    <canvas
      ref={ref}
      width={width}
      height={height}
      style={{ position: 'absolute', left, top, width, height }}
    />
  );
}

function FitTitle({ text, left, top, width, size }: any) {
  const ref = useRef<HTMLDivElement>(null);
  useEffect(() => {
    const el = ref.current;
    if (!el) return;
    el.style.transform = 'none';
    const w = el.getBoundingClientRect().width;
    if (w > 0) el.style.transform = `scaleX(${width / w})`;
  }, [text, width]);
  return (
    <div
      ref={ref}
      style={{
        position: 'absolute', left, top, fontFamily: '"Open Sans", sans-serif', fontSize: size,
        lineHeight: `${size}px`, color: '#595959', whiteSpace: 'nowrap', transformOrigin: '0 0',
      }}
    >
      {text}
    </div>
  );
}

export default function App() {
  return (
    <div style={{ position: 'absolute', left: 0, top: 0, width: 2169, height: 1708, overflow: 'hidden', background: '#fff' }}>
      <FitTitle text={TITLE_TOP} left={456} top={36} width={1259} size={72} />
      <FitTitle text={TITLE_BL} left={149} top={911} width={740} size={72} />
      <FitTitle text={TITLE_BR} left={1433} top={917} width={444} size={72} />
      <div style={{
        position: 'absolute', left: 0, top: 886, width: 2169, height: 4,
        background: 'repeating-linear-gradient(90deg, #7a7a7a 0px, #7a7a7a 2px, rgba(0,0,0,0) 2px, rgba(0,0,0,0) 4px)',
      }} />
      <SpectrumChart left={27} top={135} width={1017} height={720} yAxisWidth={109} xAxisHeight={73}
        padTop={20} padRight={20} xs={K_TOP} series={SH_SERIES} colors={SH_COLORS}
        xMax={5} xStep={1} yMin={-15} yMax={12.5} yStep={5} xDecimals={0} lineWidth={2} />
      <SpectrumChart left={1156} top={135} width={1013} height={720} yAxisWidth={111} xAxisHeight={71}
        padTop={20} padRight={17} xs={K_TOP} series={BR_SERIES} colors={BR_COLORS}
        xMax={5} xStep={1} yMin={-15} yMax={12.5} yStep={5} xDecimals={0} lineWidth={2} />
      <SpectrumChart left={49} top={987} width={996} height={721} yAxisWidth={88} xAxisHeight={71}
        padTop={20} padRight={20} xs={K_BOTTOM} series={MS_SERIES} colors={MS_COLORS}
        xMax={0.15} xStep={0.02} yMin={2} yMax={12.5} yStep={2} xDecimals={2} lineWidth={2.5} />
      <SpectrumChart left={1170} top={987} width={999} height={721} yAxisWidth={87} xAxisHeight={71}
        padTop={20} padRight={23} xs={K_BOTTOM} series={PH_SERIES} colors={PH_COLORS}
        xMax={0.3} xStep={0.05} yMin={2} yMax={12.5} yStep={2} xDecimals={2} lineWidth={2.5} />
    </div>
  );
}
